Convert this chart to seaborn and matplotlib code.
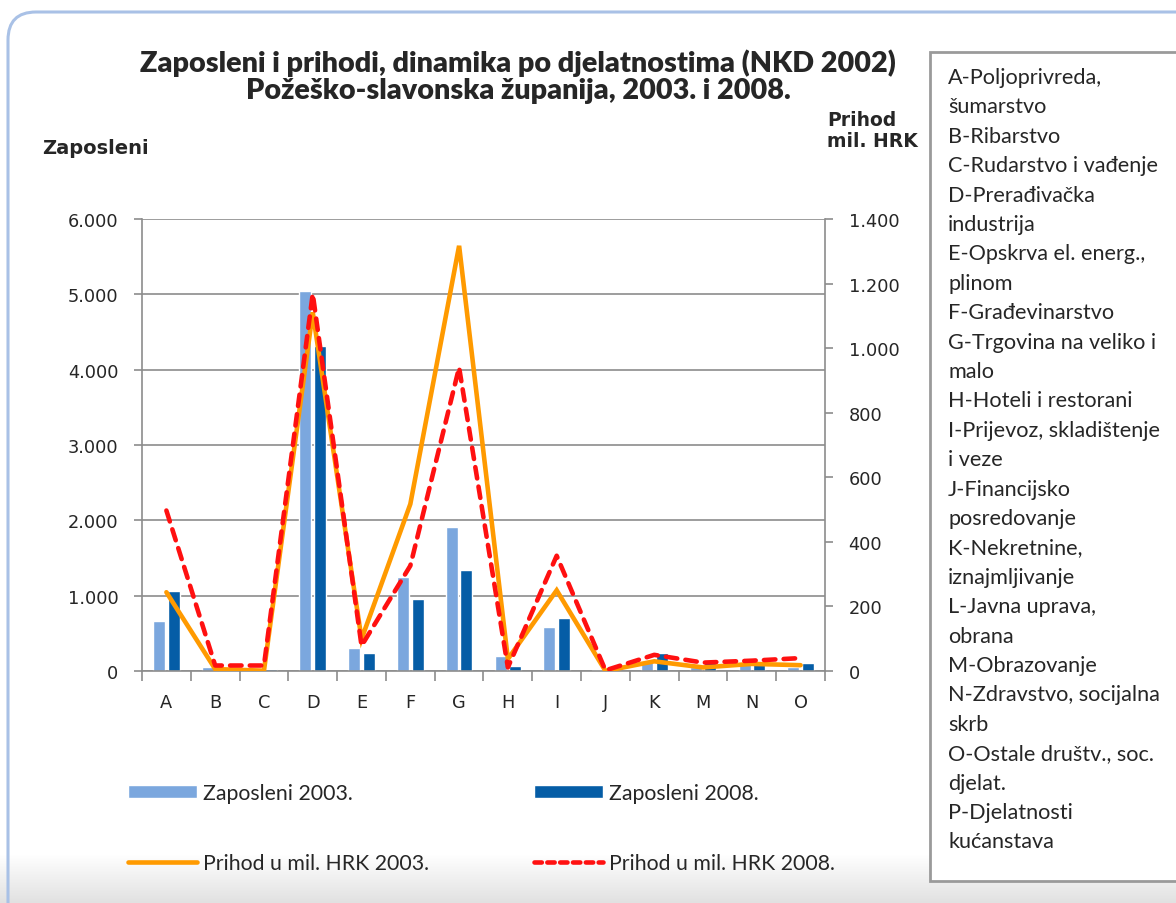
import numpy as np
import pandas as pd
import matplotlib
matplotlib.use('Agg')
import matplotlib.pyplot as plt
from matplotlib.patches import FancyBboxPatch, Rectangle
from matplotlib.ticker import FuncFormatter, FixedLocator
from matplotlib.lines import Line2D
from matplotlib.patches import Patch
import seaborn as sns

# data
categories = ['A', 'B', 'C', 'D', 'E', 'F', 'G', 'H', 'I', 'J', 'K', 'M', 'N', 'O']
zaposleni_2003 = [670, 50, 5, 5040, 305, 1245, 1905, 205, 585, 15, 135, 50, 90, 50]
zaposleni_2008 = [1060, 10, 25, 4310, 240, 955, 1345, 70, 700, 5, 235, 115, 135, 105]
prihod_2003 = [244, 6, 1, 1111, 99, 517, 1317, 37, 250, 0, 30, 11, 22, 18]
prihod_2008 = [497, 17, 17, 1168, 78, 326, 940, 11, 357, 2, 50, 26, 32, 40]

series_labels = ['Zaposleni 2003.', 'Zaposleni 2008.',
                 'Prihod u mil. HRK 2003.', 'Prihod u mil. HRK 2008.']
left_ticks = [0, 1000, 2000, 3000, 4000, 5000, 6000]
right_ticks = [0, 200, 400, 600, 800, 1000, 1200, 1400]

title = 'Zaposleni i prihodi, dinamika po djelatnostima (NKD 2002)\nPožeško-slavonska županija, 2003. i 2008.'
nkd_lines = ['A-Poljoprivreda,', 'šumarstvo', 'B-Ribarstvo', 'C-Rudarstvo i vađenje',
             'D-Prerađivačka', 'industrija', 'E-Opskrva el. energ.,', 'plinom',
             'F-Građevinarstvo', 'G-Trgovina na veliko i', 'malo', 'H-Hoteli i restorani',
             'I-Prijevoz, skladištenje', 'i veze', 'J-Financijsko', 'posredovanje',
             'K-Nekretnine,', 'iznajmljivanje', 'L-Javna uprava,', 'obrana',
             'M-Obrazovanje', 'N-Zdravstvo, socijalna', 'skrb', 'O-Ostale društv., soc.',
             'djelat.', 'P-Djelatnosti', 'kućanstava']

LIGHT = '#7BA7DE'
DARK = '#055DA6'
ORANGE = '#FF9A00'
RED = '#FF1010'
GRID = '#8C8C8C'
TEXT_FONT = ['Lato', 'DejaVu Sans']

sns.set_theme(style='white')
plt.rcParams['font.family'] = ['DejaVu Sans']

W, H = 1176, 904
fig = plt.figure(figsize=(W / 100, H / 100), dpi=100)

# background: soft bottom gradient + rounded frame
bg = fig.add_axes([0, 0, 1, 1], zorder=-10)
rows = np.arange(H)
fade = np.clip((rows - 855) / (H - 855), 0, 1)
grad = 1 - 0.12 * fade[:, None]
bg.imshow(np.dstack([grad, grad, grad]), extent=[0, 1, 0, 1], aspect='auto', origin='upper')
bg.set_xlim(0, 1)
bg.set_ylim(0, 1)
bg.axis('off')
frame = FancyBboxPatch((0.08, -0.3), 12.0, 9.21, boxstyle='round,pad=0,rounding_size=0.28',
                       transform=fig.dpi_scale_trans, facecolor='none',
                       edgecolor='#A9C1E6', lw=2.2)
bg.add_patch(frame)

ax = fig.add_axes([142 / W, 1 - 672 / H, (825 - 142) / W, (672 - 220) / H])

df = pd.DataFrame({
    'djelatnost': categories * 2,
    'serija': [series_labels[0]] * len(categories) + [series_labels[1]] * len(categories),
    'zaposleni': zaposleni_2003 + zaposleni_2008,
})
sns.barplot(data=df, x='djelatnost', y='zaposleni', hue='serija', ax=ax,
            palette=[LIGHT, DARK], saturation=1, width=0.6, gap=0.18,
            errorbar=None, legend=False, zorder=2)

ax.set_ylim(0, 6000)
ax.set_xlim(-0.5, len(categories) - 0.5)
ax.yaxis.set_major_locator(FixedLocator(left_ticks))
thousands = FuncFormatter(lambda v, p: f'{int(v):,}'.replace(',', '.'))
ax.yaxis.set_major_formatter(thousands)
ax.yaxis.grid(True, color=GRID, lw=1.2)
ax.set_axisbelow(True)
ax.set_xlabel('')
ax.set_ylabel('')
for side in ['top', 'right']:
    ax.spines[side].set_visible(False)
for side in ['left', 'bottom']:
    ax.spines[side].set_color(GRID)
    ax.spines[side].set_linewidth(1.2)
ax.tick_params(axis='y', direction='out', length=6, width=1.2, color=GRID,
               labelsize=12.8, pad=11, left=True)
ax.tick_params(axis='x', which='major', length=0, labelsize=12.8, pad=16)
ax.set_xticks(np.arange(-0.5, len(categories)), minor=True)
ax.tick_params(axis='x', which='minor', direction='out', length=7, width=1.2,
               color=GRID, bottom=True)

ax2 = ax.twinx()
sns.lineplot(x=categories, y=prihod_2003, ax=ax2, color=ORANGE, lw=3.3,
             sort=False, solid_joinstyle='miter')
sns.lineplot(x=categories, y=prihod_2008, ax=ax2, color=RED, lw=3.3,
             sort=False, linestyle=(0, (2.5, 1.8)), dash_capstyle='round')
ax2.set_ylim(0, 1400)
ax2.set_xlim(-0.5, len(categories) - 0.5)
ax2.yaxis.set_major_locator(FixedLocator(right_ticks))
ax2.yaxis.set_major_formatter(thousands)
ax2.grid(False)
ax2.set_ylabel('')
for side in ['top', 'left', 'bottom']:
    ax2.spines[side].set_visible(False)
ax2.spines['right'].set_color(GRID)
ax2.spines['right'].set_linewidth(1.2)
ax2.tick_params(axis='y', direction='out', length=6, width=1.2, color=GRID,
                labelsize=12.8, pad=11, right=True)

# titles and axis captions
fig.text(518 / W, 1 - 77 / H, title, ha='center', va='center', fontsize=20.7,
         fontweight='heavy', family=TEXT_FONT, linespacing=1.05)
fig.text(42 / W, 1 - 148 / H, 'Zaposleni', ha='left', va='center',
         fontsize=14, fontweight='bold')
fig.text(827 / W, 1 - 131 / H, 'Prihod\nmil. HRK', ha='left', va='center',
         fontsize=13.5, fontweight='bold', linespacing=1.15)

# legend below the plot
handles = [Patch(facecolor=LIGHT), Line2D([], [], color=ORANGE, lw=3.3),
           Patch(facecolor=DARK),
           Line2D([], [], color=RED, lw=3.3, linestyle=(0, (1.6, 1.2)), dash_capstyle='round')]
labels = [series_labels[0], series_labels[2], series_labels[1], series_labels[3]]
fig.legend(handles, labels, loc='upper left', bbox_to_anchor=(128 / W, 1 - 784 / H),
           bbox_transform=fig.transFigure, ncol=2, frameon=False, borderpad=0,
           borderaxespad=0, handlelength=3.25, handleheight=0.6, handletextpad=0.28,
           labelspacing=2.35, columnspacing=4.95,
           prop={'family': TEXT_FONT, 'size': 15.3})

# NKD legend box on the right
box = Rectangle((930 / W, 1 - 882 / H), 0.3, (882 - 53) / H, transform=fig.transFigure,
                facecolor='white', edgecolor='#9A9A9A', lw=2)
fig.patches.append(box)
for i, line in enumerate(nkd_lines):
    fig.text(948 / W, 1 - (78 + i * 29.4) / H, line, ha='left', va='center',
             fontsize=15.6, family=TEXT_FONT)

fig.savefig('out.png', dpi=100)
